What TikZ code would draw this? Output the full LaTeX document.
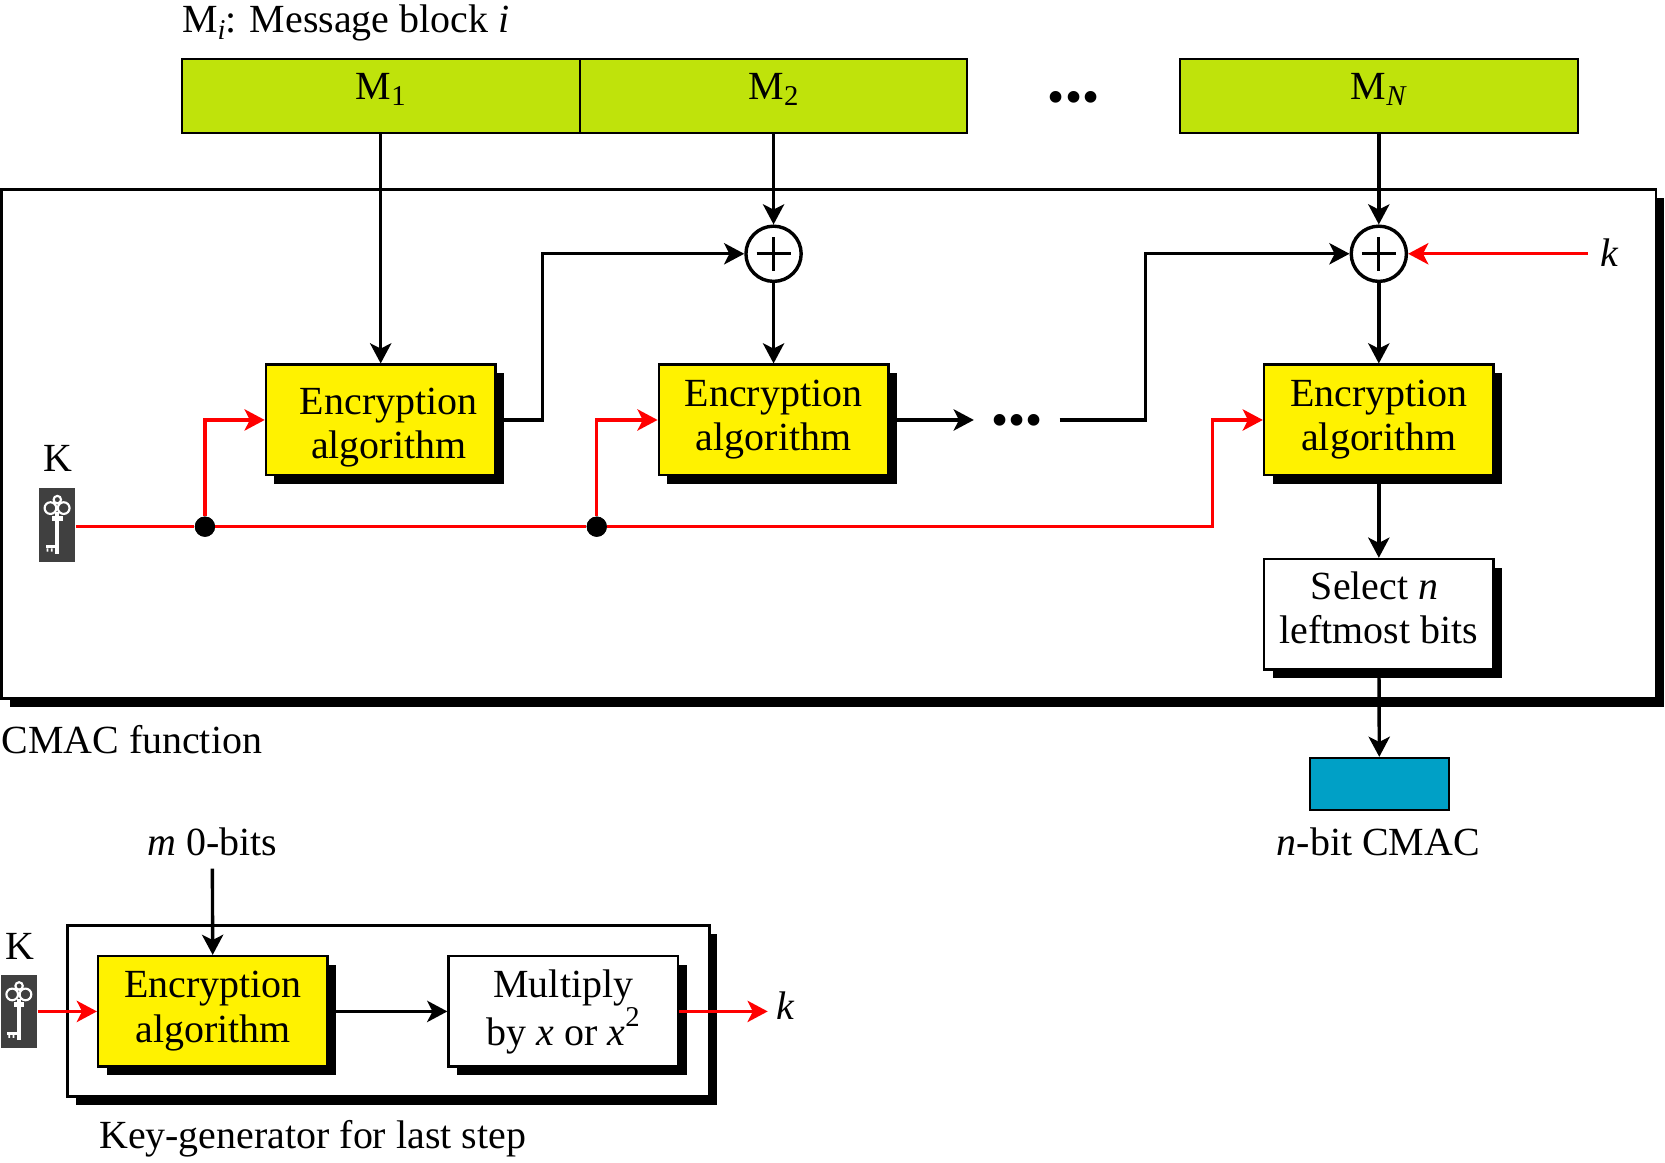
\documentclass[tikz,border=0pt]{standalone}
\usepackage{fontspec}
\setmainfont{Liberation Serif}
\usetikzlibrary{arrows.meta,shadows}
\definecolor{blockgreen}{HTML}{BFE30B}
\definecolor{macblue}{HTML}{00A0C6}
\definecolor{keygrey}{HTML}{404040}
\newcommand{\bodysize}{\fontsize{18.8}{21}\selectfont}
\newcommand{\dotsize}{\fontsize{23}{23}\selectfont}
\newcommand{\lowtext}[1]{\raisebox{-0.35ex}{\fontsize{13.5}{13.5}\selectfont #1}}
\newcommand{\hightext}[1]{\raisebox{1.05ex}{\fontsize{13.5}{13.5}\selectfont #1}}
\begin{document}
\begin{tikzpicture}[
    x=0.5pt, y=0.5pt,
    font=\bodysize,
    >={Stealth[length=9.5pt,width=10pt,inset=2.5pt]},
    flow/.style={->, line width=1.6pt},
    keyflow/.style={->, line width=1.6pt, red},
    shadowed/.style={drop shadow={shadow xshift=4pt, shadow yshift=-4pt, opacity=1, fill=black}},
    msgblock/.style={draw, line width=1pt, fill=blockgreen, minimum height=35pt, inner sep=0pt},
    encbox/.style={draw, line width=1.2pt, fill=yellow, minimum width=108pt, minimum height=52pt, shadowed},
    plainbox/.style={draw, line width=1.2pt, fill=white, minimum width=108pt, minimum height=52pt, shadowed},
    boxtext/.style={align=center, inner sep=0pt},
    xorcircle/.style={circle, draw, line width=1.6pt, fill=white, minimum size=26pt, inner sep=0pt},
    joint/.style={circle, fill=black, minimum size=9.5pt, inner sep=0pt},
    dotsgap/.style={minimum width=40pt, inner sep=0pt},
    keybox/.style={fill=keygrey, minimum width=17pt, minimum height=34.5pt, inner sep=0pt},
    keyglyph/.pic={
        \draw[white, line width=1pt] (-6.5,16) circle (5.5) (6,16) circle (5.5) (0,24) circle (3.5);
        \fill[white] (-1.8,12) rectangle (1.8,-27);
        \fill[white] (-5,9) rectangle (5,4);
        \fill[white] (-11,-19) rectangle (-1,-22);
        \fill[white] (-10,-22) rectangle (-8.5,-25) (-6,-22) rectangle (-4.5,-25);
    }
]
\useasboundingbox (0,0) rectangle (1568,-1095.2);

% CMAC function frame
\node[draw, line width=1.4pt, fill=white, minimum width=779pt, minimum height=239.5pt, inner sep=0pt,
      drop shadow={shadow xshift=4pt, shadow yshift=-4pt, opacity=1, fill=black}] (frame) at (780.5,-418) {};
\node[anchor=base west, inner sep=0pt] (framelabel) at (1,-710) {CMAC function};

% Message blocks
\node[anchor=base west, inner sep=0pt] (msglabel) at (171,-31) {M\lowtext{\textit{i}}: Message block \textit{i}};
\node[msgblock, minimum width=187.5pt, label={[boxtext, yshift=3pt]center:M\lowtext{1}}] (m1) at (358.5,-90.5) {};
\node[msgblock, minimum width=182.5pt, label={[boxtext, yshift=3pt]center:M\lowtext{2}}] (m2) at (728.5,-90.5) {};
\node[msgblock, minimum width=187.5pt, label={[boxtext, yshift=3pt]center:M\lowtext{\textit{N}}}] (mN) at (1298.5,-90.5) {};
\node[font=\dotsize, inner sep=0pt] (topdots) at (1011,-97) {•••};

% Encryption stages
\foreach \i/\cx/\dx/\dy in {1/358.5/3.75/-3.5, 2/728.5/0/0.25, 3/1298.5/0/0.25} {
    \node[encbox, label={[boxtext, xshift=\dx pt, yshift=\dy pt]center:Encryption\\algorithm}] (enc\i) at (\cx,-395.5) {};
}
\node[xorcircle] (xor1) at (728.5,-239) {};
\node[xorcircle] (xor2) at (1298.5,-239) {};
\foreach \x in {xor1, xor2} {
    \draw[line width=1.5pt] ([xshift=-8pt]\x.center) -- ([xshift=8pt]\x.center)
        ([yshift=-8pt]\x.center) -- ([yshift=8pt]\x.center);
}
\node[dotsgap, label={[font=\dotsize, inner sep=0pt, yshift=-2.5pt]center:•••}] (middots) at (957.5,-395.5) {};
\node[inner sep=0pt] (k1) at (1516,-238) {\textit{k}};
\coordinate (k1end) at (1495,-239);

\node[plainbox, label={[boxtext, yshift=3pt]center:Select \textit{n}\hspace*{4pt}\\leftmost bits}] (select) at (1298.5,-578.5) {};
\node[draw, line width=1.2pt, fill=macblue, minimum width=65.5pt, minimum height=24.5pt, inner sep=0pt] (mac) at (1299,-738.5) {};
\node[inner sep=0pt] (maclabel) at (1298,-793) {\textit{n}-bit CMAC};

% Key and its branches
\node[inner sep=0pt] (klabel1) at (55,-432) {K};
\node[keybox] (key1) at (54,-494.5) {};
\pic at (key1.center) {keyglyph};
\node[joint] (j1) at (193,-496) {};
\node[joint] (j2) at (562,-496) {};
\coordinate (keybend) at (1142,-496);
\draw[line width=1.6pt, red] (key1.east |- j1) -- (j1);
\draw[line width=1.6pt, red] (j1) -- (j2);
\draw[keyflow] (j1) |- (enc1.west);
\draw[keyflow] (j2) |- (enc2.west);
\draw[keyflow] (j2) -- (keybend) |- (enc3.west);
\node[joint] at (j1) {};
\node[joint] at (j2) {};

% Data path
\coordinate (bend1) at (511,-395.5);
\coordinate (bend2) at (1079,-395.5);
\draw[flow] (m1) -- (enc1);
\draw[flow] (m2) -- (xor1);
\draw[flow] (xor1) -- (enc2);
\draw[flow] (enc1.east) -- (bend1) |- (xor1.west);
\draw[flow] (enc2.east) -- (middots.west);
\draw[flow] (middots.east) -- (bend2) |- (xor2.west);
\draw[flow] (mN) -- (xor2);
\draw[flow] (xor2) -- (enc3);
\draw[keyflow] (k1end) -- (xor2.east);
\draw[flow] (enc3) -- (select);
\draw[flow] (select) -- (mac);

% Key generator
\node[draw, line width=1.4pt, fill=white, minimum width=302pt, minimum height=80.5pt, inner sep=0pt,
      drop shadow={shadow xshift=3.75pt, shadow yshift=-3.75pt, opacity=1, fill=black}] (genframe) at (366,-952.5) {};
\node[anchor=base west, inner sep=0pt] (genlabel) at (93,-1082) {Key-generator for last step};
\node[encbox, label={[boxtext, yshift=0.25pt]center:Encryption\\algorithm}] (enc4) at (200.5,-952.5) {};
\node[plainbox, label={[boxtext, yshift=-0.25pt]center:Multiply\\by \textit{x} or \textit{x}\hightext{2}}] (mult) at (530.5,-952.5) {};
\node[inner sep=0pt] (mzero) at (200,-793) {\textit{m} 0-bits};
\coordinate (mzeroend) at (200,-818);
\node[inner sep=0pt] (klabel2) at (19,-891) {K};
\node[keybox] (key2) at (18,-952.5) {};
\pic at (key2.center) {keyglyph};
\node[inner sep=0pt] (k2) at (740,-947) {\textit{k}};
\coordinate (k2end) at (723,-952.5);
\draw[flow] (mzeroend) -- (enc4);
\draw[keyflow] (key2) -- (enc4);
\draw[flow] (enc4) -- (mult);
\draw[keyflow] (mult) -- (k2end);

\end{tikzpicture}
\end{document}
